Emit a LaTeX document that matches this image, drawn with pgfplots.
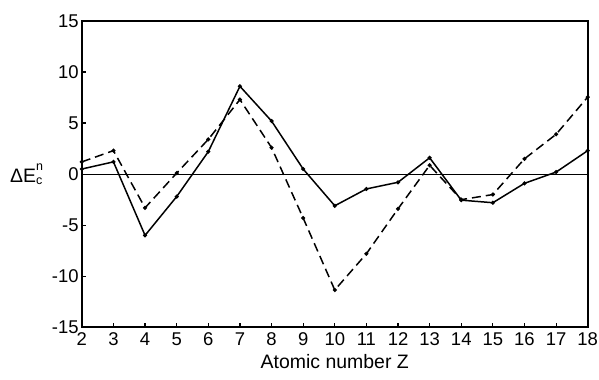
\documentclass[border=0pt]{standalone}
\usepackage{fontspec}
\setmainfont{Liberation Sans}
\usepackage{pgfplots}
\pgfplotsset{compat=1.18}
\begin{document}
\begin{tikzpicture}
\begin{axis}[
  scale only axis,
  width=507pt, height=307pt,
  xmin=2, xmax=18, ymin=-15, ymax=15,
  xtick={2,3,...,18},
  ytick={-15,-10,-5,0,5,10,15},
  xtick pos=left, ytick pos=left,
  tick align=inside,
  major tick length=4pt,
  axis line style={line width=2pt},
  every tick/.style={line width=1.2pt,black},
  /pgf/number format/assume math mode=true,
  ticklabel style={font=\fontsize{18.5}{20}\selectfont},
  yticklabel style={inner sep=1pt, xshift=-2pt},
  xticklabel style={inner sep=1pt, yshift=-4pt},
  xlabel={Atomic number Z},
  xlabel style={font=\fontsize{19.5}{21}\selectfont, yshift=-4pt},
  every axis y label/.style={at={(axis description cs:0,0.5)}, anchor=east, xshift=-36pt},
  ylabel={\fontsize{19.5}{21}\selectfont ΔE\rlap{\raisebox{12.5pt}{\fontsize{12.5}{12}\selectfont n}}\raisebox{-1.5pt}{\fontsize{12.5}{12}\selectfont c}},
  clip=false,
]
\addplot[black, line width=1.1pt, forget plot] coordinates {(2,0) (18,0)};
\addplot[black, line width=1.5pt, mark=*, mark size=1.2pt] coordinates {
(2,0.5) (3,1.2) (4,-6.0) (5,-2.2) (6,2.2) (7,8.6) (8,5.2) (9,0.5) (10,-3.1)
(11,-1.45) (12,-0.8) (13,1.6) (14,-2.55) (15,-2.8) (16,-0.9) (17,0.2) (18,2.3)};
\addplot[black, line width=1.5pt, dash pattern=on 9pt off 5pt, mark=*, mark size=1.2pt, mark options={solid}] coordinates {
(2,1.2) (3,2.3) (4,-3.3) (5,0.1) (6,3.4) (7,7.3) (8,2.6) (9,-4.3) (10,-11.35)
(11,-7.8) (12,-3.4) (13,0.86) (14,-2.5) (15,-2.0) (16,1.5) (17,3.9) (18,7.55)};
\end{axis}
\path (current axis.south west) ++(-82pt,-52pt) coordinate (bl);
\path (current axis.north east) ++(10pt,21pt) coordinate (tr);
\path[use as bounding box] (bl) rectangle (tr);
\end{tikzpicture}
\end{document}
